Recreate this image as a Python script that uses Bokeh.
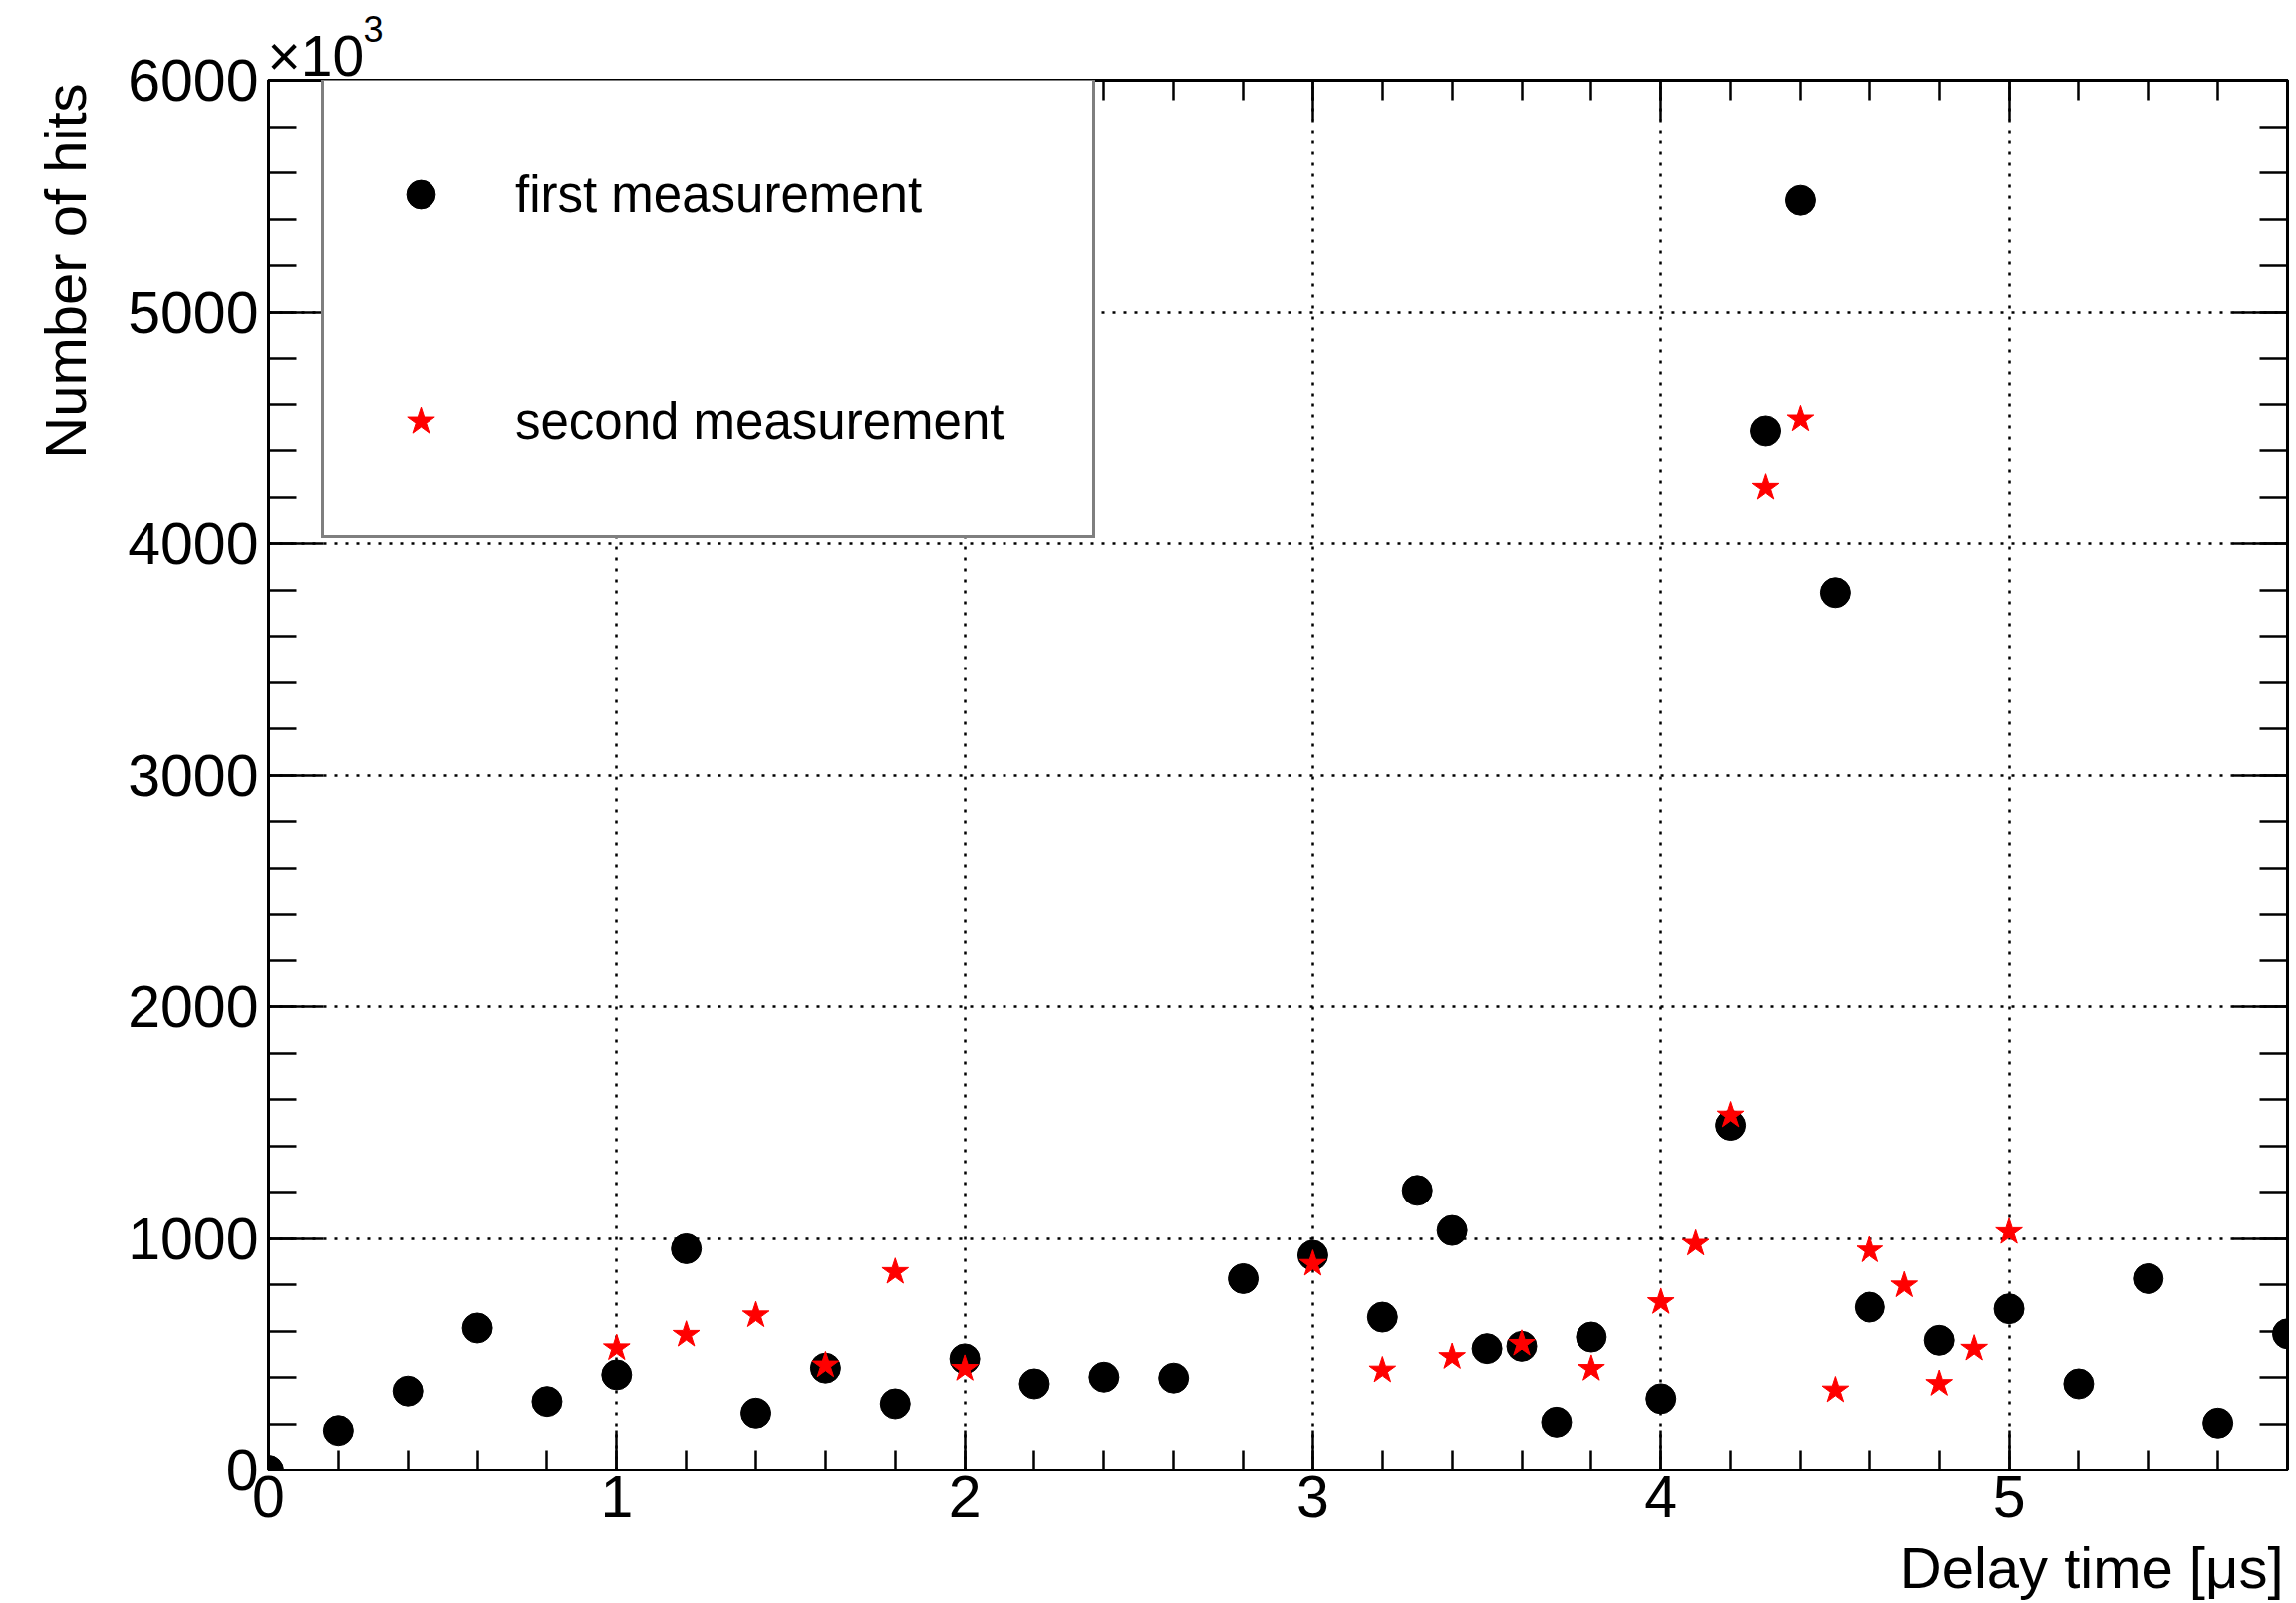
from bokeh.plotting import figure
from bokeh.models import (Range1d, SingleIntervalTicker, LinearAxis, Legend, LegendItem,
                          Title, CustomJSTickFormatter)
from bokeh.embed import file_html
from bokeh.resources import INLINE

# Delay time [us] and number of hits (in units of 10^3) for both runs
delay_first = [0.0, 0.2, 0.4, 0.6, 0.8, 1.0, 1.2, 1.4, 1.6, 1.8, 2.0, 2.2, 2.4, 2.6,
               2.8, 3.0, 3.2, 3.3, 3.4, 3.5, 3.6, 3.7, 3.8, 4.0, 4.2, 4.3, 4.4, 4.5,
               4.6, 4.8, 5.0, 5.2, 5.4, 5.6, 5.8]
hits_first = [0, 171, 341, 613, 296, 411, 955, 246, 440, 286, 480, 372, 401, 397,
              826, 927, 660, 1207, 1034, 524, 534, 207, 574, 308, 1488, 4484, 5481, 3788,
              703, 560, 696, 372, 826, 203, 588]

delay_second = [1.0, 1.2, 1.4, 1.6, 1.8, 2.0, 3.0, 3.2, 3.4, 3.6, 3.8, 4.0, 4.1, 4.2,
                4.3, 4.4, 4.5, 4.6, 4.7, 4.8, 4.9, 5.0]
hits_second = [526, 584, 668, 452, 855, 437, 890, 430, 488, 545, 437, 725, 977, 1531,
               4240, 4534, 344, 948, 797, 372, 524, 1027]

series_labels = ["first measurement", "second measurement"]
x_title = "Delay time [\u03bcs]"
y_title = "Number of hits"
y_scale_base = "\u00d710"
y_scale_exp = "3"

FONT = "Liberation Sans"

p = figure(frame_width=2026, frame_height=1395, output_backend="svg", toolbar_location=None,
           x_range=Range1d(0, 5.8), y_range=Range1d(0, 6000),
           min_border_left=269, min_border_right=9, min_border_top=80, min_border_bottom=134,
           background_fill_color="white", border_fill_color="white")

p.outline_line_color = "black"
p.outline_line_width = 3

x_ticker = SingleIntervalTicker(interval=1, num_minor_ticks=5)
y_ticker = SingleIntervalTicker(interval=1000, num_minor_ticks=5)


def style_axis(ax, ticker, major_len, minor_len, show_labels, standoff):
    ax.ticker = ticker
    ax.axis_line_color = "black"
    ax.axis_line_width = 3
    ax.major_tick_line_color = "black"
    ax.minor_tick_line_color = "black"
    ax.major_tick_line_width = 2.5
    ax.minor_tick_line_width = 2.5
    ax.major_tick_in = major_len
    ax.major_tick_out = 0
    ax.minor_tick_in = minor_len
    ax.minor_tick_out = 0
    if show_labels:
        ax.major_label_text_font = FONT
        ax.major_label_text_font_size = "59px"
        ax.major_label_text_color = "black"
        ax.major_label_standoff = standoff
    else:
        ax.formatter = CustomJSTickFormatter(code="return ''")
        ax.major_label_text_font_size = "0px"
        ax.major_label_standoff = 0


style_axis(p.xaxis[0], x_ticker, 40, 20, True, 6)
style_axis(p.yaxis[0], y_ticker, 55, 28, True, 10)
p.yaxis[0].major_label_orientation = "horizontal"

top_axis = LinearAxis()
style_axis(top_axis, x_ticker, 40, 20, False, 0)
p.add_layout(top_axis, "above")
right_axis = LinearAxis()
style_axis(right_axis, y_ticker, 55, 28, False, 0)
p.add_layout(right_axis, "right")

for g, t in ((p.xgrid[0], x_ticker), (p.ygrid[0], y_ticker)):
    g.ticker = t
    g.grid_line_color = "black"
    g.grid_line_width = 2.5
    g.grid_line_dash = "3 8"

r_first = p.scatter(delay_first, hits_first, marker="circle", size=30,
                    fill_color="black", line_color="black")
r_second = p.scatter(delay_second, hits_second, marker="star", size=28,
                     fill_color="red", line_color="red")

legend = Legend(
    items=[LegendItem(label=series_labels[0], renderers=[r_first]),
           LegendItem(label=series_labels[1], renderers=[r_second])],
    location=(53, 935), orientation="vertical",
    padding=61, spacing=122, margin=0,
    glyph_width=72, glyph_height=106, label_height=106, label_width=518,
    label_standoff=59, label_text_font=FONT, label_text_font_size="51px",
    label_text_color="black",
    border_line_color="black", border_line_width=3,
    background_fill_color="white", background_fill_alpha=1.0,
)
p.add_layout(legend)


def title(text, size, align, offset, valign, standoff):
    return Title(text=text, align=align, offset=offset, vertical_align=valign,
                 standoff=standoff, text_font=FONT, text_font_size=size,
                 text_font_style="normal", text_color="black")


# axis titles in ROOT style: x title flush right, y title flush top
p.add_layout(title(x_title, "58px", "right", 4, "top", 30), "below")
p.add_layout(title(y_title, "58px", "right", 3, "top", 52), "left")
# common factor of the y axis, written as x10 with a raised exponent
p.add_layout(title(y_scale_base, "57px", "left", -1, "bottom", -14), "above")
p.add_layout(title(y_scale_exp, "36px", "left", 95, "bottom", -27), "above")

open("out.html", "w").write(file_html(p, INLINE))
